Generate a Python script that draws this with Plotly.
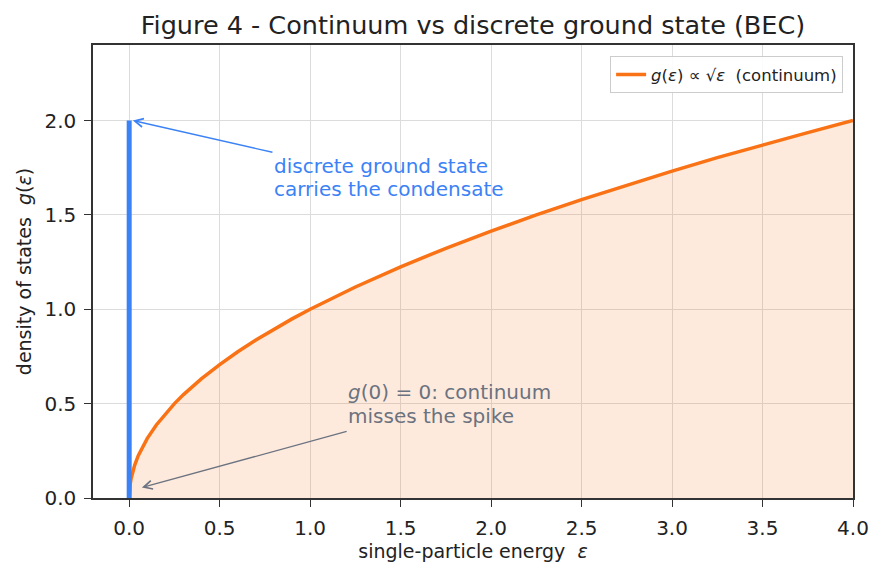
import plotly.graph_objects as go

# Continuum density of states
energy = [0, 0.002, 0.005, 0.01, 0.02, 0.03, 0.05, 0.075, 0.1, 0.15, 0.2, 0.25, 0.3, 0.4,
          0.5, 0.6, 0.7, 0.8, 0.9, 1.0, 1.25, 1.5, 1.75, 2.0, 2.25, 2.5, 2.75, 3.0,
          3.25, 3.5, 3.75, 4.0]
dos = [0, 0.045, 0.071, 0.10, 0.141, 0.173, 0.224, 0.274, 0.316, 0.387, 0.447, 0.5, 0.548,
       0.632, 0.707, 0.775, 0.837, 0.894, 0.949, 1.0, 1.118, 1.225, 1.323, 1.414, 1.5,
       1.581, 1.658, 1.732, 1.803, 1.871, 1.936, 2.0]

# Discrete ground-state spike
spike_x = [0, 0]
spike_y = [0, 2.0]

x_ticks = [0.0, 0.5, 1.0, 1.5, 2.0, 2.5, 3.0, 3.5, 4.0]
y_ticks = [0.0, 0.5, 1.0, 1.5, 2.0]

blue_lines = ["discrete ground state", "carries the condensate"]
gray_lines = ["<i>g</i>(0) = 0: continuum", "misses the spike"]

ORANGE = "#f97316"
BLUE = "#3b82f6"
GRAY = "#6b7280"
FONT = "DejaVu Sans"

fig = go.Figure()
fig.add_trace(go.Scatter(x=energy, y=dos, mode="lines", line=dict(width=0),
                         fill="tozeroy", fillcolor="rgba(249,115,22,0.15)",
                         showlegend=False, hoverinfo="skip"))
fig.add_trace(go.Scatter(x=energy, y=dos, mode="lines", line=dict(color=ORANGE, width=3.5),
                         name="<i>g</i>(<i>ε</i>) ∝ √<i>ε</i>  (continuum)"))
fig.add_trace(go.Scatter(x=spike_x, y=spike_y, mode="lines", line=dict(color=BLUE, width=5),
                         showlegend=False))

# arrows
fig.add_annotation(x=0.02, y=2.0, ax=0.8, ay=1.83, axref="x", ayref="y", xref="x", yref="y",
                   text="", showarrow=True, arrowhead=5, arrowsize=1.3, arrowwidth=1.3,
                   arrowcolor=BLUE)
fig.add_annotation(x=0.07, y=0.055, ax=1.21, ay=0.355, axref="x", ayref="y", xref="x", yref="y",
                   text="", showarrow=True, arrowhead=5, arrowsize=1.3, arrowwidth=1.3,
                   arrowcolor=GRAY)
# texts (one annotation per line for matplotlib-like line spacing)
for txt, yy in zip(blue_lines, [1.757, 1.635]):
    fig.add_annotation(x=0.79, y=yy, xref="x", yref="y", xanchor="left", yanchor="middle",
                       text=txt, showarrow=False, align="left",
                       font=dict(family=FONT, size=20, color=BLUE))
for txt, yy in zip(gray_lines, [0.561, 0.434]):
    fig.add_annotation(x=1.2, y=yy, xref="x", yref="y", xanchor="left", yanchor="middle",
                       text=txt, showarrow=False, align="left",
                       font=dict(family=FONT, size=20, color=GRAY))

axis_common = dict(showgrid=True, gridcolor="#dcdcdc", gridwidth=1, zeroline=False,
                   showline=True, linecolor="#333333", linewidth=1.5, mirror=True,
                   ticks="outside", ticklen=7, tickwidth=1.3, tickcolor="#333333",
                   tickfont=dict(family=FONT, size=20, color="#222222"))

fig.update_xaxes(range=[-0.2, 4.0], tickvals=x_ticks, tickformat=".1f", ticklabelstandoff=4,
                 title=dict(text="single-particle energy  <i>ε</i>",
                            font=dict(family=FONT, size=19, color="#222222"), standoff=6),
                 **axis_common)
fig.update_yaxes(range=[0, 2.4], tickvals=y_ticks, tickformat=".1f", ticklabelstandoff=4,
                 title=dict(text="density of states  <i>g</i>(<i>ε</i>)",
                            font=dict(family=FONT, size=19, color="#222222"), standoff=8),
                 **axis_common)

fig.update_layout(
    width=883, height=577,
    margin=dict(l=93, r=30, t=45, b=79),
    paper_bgcolor="white", plot_bgcolor="white",
    title=dict(text="Figure 4 - Continuum vs discrete ground state (BEC)",
               x=(93 + 853) / 2 / 883, xanchor="center", y=0.956, yanchor="middle",
               font=dict(family=FONT, size=25.5, color="#222222")),
    legend=dict(x=0.987, y=0.975, xanchor="right", yanchor="top",
                bgcolor="rgba(255,255,255,0.9)", bordercolor="#cccccc", borderwidth=1,
                font=dict(family=FONT, size=16.5, color="#222222")),
    font=dict(family=FONT),
)

fig.write_html("out.html")
